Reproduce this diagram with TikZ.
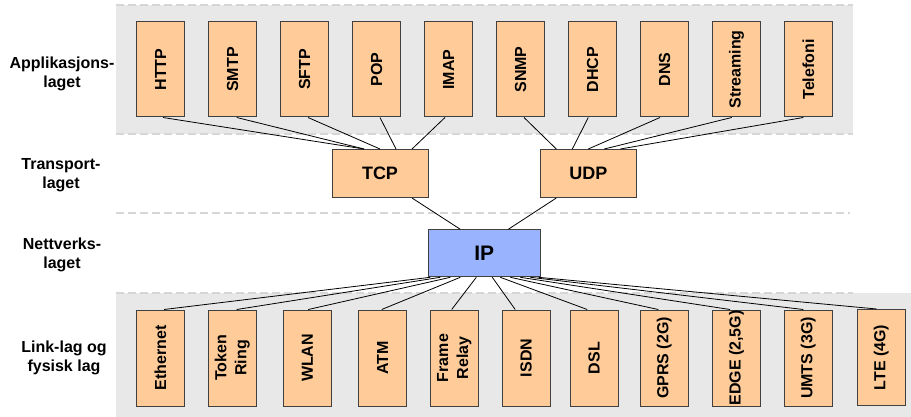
\documentclass[tikz,border=0pt]{standalone}
\usepackage{fontspec}
\setmainfont{Liberation Sans}
\definecolor{peach}{HTML}{FFCC99}
\definecolor{ipblue}{HTML}{99B3FF}
\definecolor{boxline}{HTML}{404040}
\definecolor{band}{HTML}{E8E8E8}
\definecolor{dashcol}{HTML}{D6D6D6}
\begin{document}
\begin{tikzpicture}[x=1pt,y=-1pt,
  box/.style={draw=boxline, fill=peach, line width=1pt, minimum width=48pt, minimum height=95pt, inner sep=0pt, font=\fontsize{16}{19}\selectfont\bfseries},
  tbox/.style={draw=boxline, fill=peach, line width=1pt, minimum width=96pt, minimum height=48pt, inner sep=0pt, font=\fontsize{18}{21}\selectfont\bfseries},
  ipbox/.style={draw=boxline, fill=ipblue, line width=1pt, minimum width=112pt, minimum height=47pt, inner sep=0pt, font=\fontsize{21}{24}\selectfont\bfseries},
  layerlbl/.style={align=center, font=\fontsize{16}{19}\selectfont\bfseries},
  sepline/.style={draw=dashcol, line width=1.6pt, dash pattern=on 8pt off 4pt},
  conn/.style={draw=black, line width=0.8pt}]
\useasboundingbox (0,0) rectangle (911,417);
% bands
\fill[band] (116,5) rectangle (853,134);
\fill[band] (116,293) rectangle (911,417);
\draw[sepline] (116,5) -- (853,5);
\draw[sepline] (116,134) -- (853,134);
\draw[sepline] (116,213) -- (850,213);
\draw[sepline] (116,293) -- (853,293);
% layer labels
\node[layerlbl] (l1) at (62,74) {Applikasjons-\\laget};
\node[layerlbl] (l2) at (61,175) {Transport-\\laget};
\node[layerlbl] (l3) at (62,255) {Nettverks-\\laget};
\node[layerlbl] (l4) at (64,358) {Link-lag og\\fysisk lag};
% application boxes
\node[box] (http) at (160.5,69.5) {\rotatebox{90}{HTTP}};
\node[box] (smtp) at (232.5,69.5) {\rotatebox{90}{SMTP}};
\node[box] (sftp) at (304.5,69.5) {\rotatebox{90}{SFTP}};
\node[box] (pop) at (376.5,69.5) {\rotatebox{90}{POP}};
\node[box] (imap) at (448.5,69.5) {\rotatebox{90}{IMAP}};
\node[box] (snmp) at (520.5,69.5) {\rotatebox{90}{SNMP}};
\node[box] (dhcp) at (592.5,69.5) {\rotatebox{90}{DHCP}};
\node[box] (dns) at (664.5,69.5) {\rotatebox{90}{DNS}};
\node[box] (stream) at (736.5,69.5) {\rotatebox{90}{Streaming}};
\node[box] (tel) at (808.5,69.5) {\rotatebox{90}{Telefoni}};
% transport
\node[tbox] (tcp) at (380,173.5) {TCP};
\node[tbox] (udp) at (588.3,173.5) {UDP};
% network
\node[ipbox] (ip) at (484.3,253.3) {IP};
% link boxes
\begin{scope}[box/.append style={minimum height=96pt}]
\node[box] (eth) at (160.5,358) {\rotatebox{90}{Ethernet}};
\node[box] (tok) at (232.5,358) {\rotatebox{90}{\begin{tabular}{@{}c@{}}Token\\[1pt]Ring\end{tabular}}};
\node[box] (wlan) at (307.3,358) {\rotatebox{90}{WLAN}};
\node[box] (atm) at (382.5,358) {\rotatebox{90}{ATM}};
\node[box] (fr) at (454.2,358) {\rotatebox{90}{\begin{tabular}{@{}c@{}}Frame\\[1pt]Relay\end{tabular}}};
\node[box] (isdn) at (526.2,358) {\rotatebox{90}{ISDN}};
\node[box] (dsl) at (594.2,358) {\rotatebox{90}{DSL}};
\node[box] (gprs) at (664.3,358) {\rotatebox{90}{GPRS (2G)}};
\node[box] (edge) at (736.5,358) {\rotatebox{90}{EDGE (2,5G)}};
\node[box] (umts) at (808.3,358) {\rotatebox{90}{UMTS (3G)}};
\node[box] (lte) at (881.3,357.5) {\rotatebox{90}{LTE (4G)}};
\end{scope}
% connectors application -> transport
\draw[conn] ([xshift=2.5pt]http.south) -- ([xshift=-16pt]tcp.north);
\draw[conn] ([xshift=4.2pt]smtp.south) -- ([xshift=-16pt]tcp.north);
\draw[conn] ([xshift=3.5pt]sftp.south) -- (tcp.north);
\draw[conn] ([xshift=3.5pt]pop.south) -- ([xshift=16pt]tcp.north);
\draw[conn] ([xshift=-3.5pt]imap.south) -- ([xshift=32pt]tcp.north);
\draw[conn] ([xshift=3.5pt]snmp.south) -- ([xshift=-32pt]udp.north);
\draw[conn] ([xshift=-4.2pt]dhcp.south) -- ([xshift=-16pt]udp.north);
\draw[conn] ([xshift=-4.5pt]dns.south) -- (udp.north);
\draw[conn] ([xshift=-4.8pt]stream.south) -- ([xshift=16pt]udp.north);
\draw[conn] ([xshift=-5.2pt]tel.south) -- ([xshift=32pt]udp.north);
% transport -> network
\draw[conn] ([xshift=32pt]tcp.south) -- ([xshift=-24pt]ip.north);
\draw[conn] ([xshift=-32pt]udp.south) -- ([xshift=24pt]ip.north);
% network -> link
\draw[conn] ([xshift=-54pt]ip.south) -- ([xshift=3.5pt]eth.north);
\draw[conn] ([xshift=-44pt]ip.south) -- ([xshift=4.2pt]tok.north);
\draw[conn] ([xshift=-34pt]ip.south) -- ([xshift=1pt]wlan.north);
\draw[conn] ([xshift=-24pt]ip.south) -- ([xshift=-0.8pt]atm.north);
\draw[conn] ([xshift=-8pt]ip.south) -- ([xshift=-2.5pt]fr.north);
\draw[conn] ([xshift=8pt]ip.south) -- ([xshift=-11pt]isdn.north);
\draw[conn] ([xshift=16pt]ip.south) -- ([xshift=-7pt]dsl.north);
\draw[conn] ([xshift=26pt]ip.south) -- ([xshift=-6pt]gprs.north);
\draw[conn] ([xshift=36pt]ip.south) -- ([xshift=-6.5pt]edge.north);
\draw[conn] ([xshift=46pt]ip.south) -- ([xshift=-5pt]umts.north);
\draw[conn] ([xshift=54pt]ip.south) -- ([xshift=-4.6pt]lte.north);
\end{tikzpicture}
\end{document}
